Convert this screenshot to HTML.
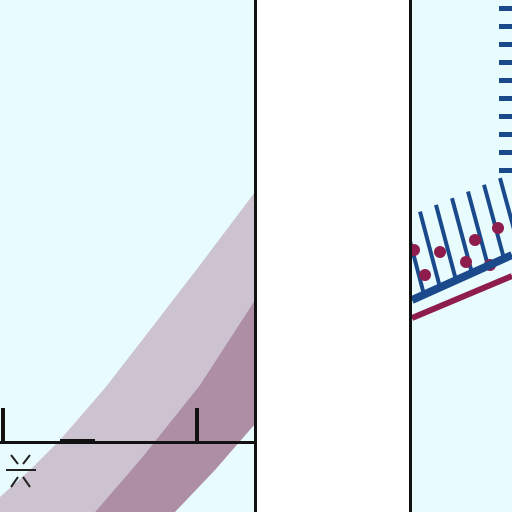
<!DOCTYPE html>
<html><head><meta charset="utf-8"><style>
html,body{margin:0;padding:0;width:512px;height:512px;overflow:hidden;background:#fff}
svg{display:block}
</style></head><body>
<svg id="s" width="512" height="512" viewBox="0 0 512 512">
<defs><clipPath id="lc"><rect x="0" y="0" width="255" height="512"/></clipPath>
<clipPath id="rc"><rect x="412" y="0" width="100" height="512"/></clipPath></defs>
<rect x="0" y="0" width="255" height="512" fill="#e8fbfd"/>
<rect x="258" y="0" width="152" height="512" fill="#ffffff"/>
<rect x="412" y="0" width="100" height="512" fill="#e8fbfd"/>
<g id="band" clip-path="url(#lc)"></g>
<rect x="0" y="441" width="255" height="3" fill="#111"/>
<rect x="60" y="439" width="35" height="3" fill="#111"/>
<rect x="1" y="408" width="4" height="34" fill="#111"/>
<rect x="195" y="408" width="4" height="34" fill="#111"/>
<g stroke="#222" stroke-width="2">
<line x1="6" y1="470" x2="36" y2="470"/>
<line x1="11" y1="455" x2="18" y2="464"/><line x1="30" y1="455" x2="23" y2="464"/>
<line x1="11" y1="487" x2="18" y2="477"/><line x1="30" y1="487" x2="23" y2="477"/>
</g>
<rect x="254" y="0" width="3" height="512" fill="#111"/>
<rect x="409" y="0" width="3" height="512" fill="#111"/>
<g id="right" clip-path="url(#rc)"></g>
</svg>
<script>
const bandOuterLeft=[[0,497],[30,470],[60,440],[105,388],[150,330],[200,265],[255,192]];
const bandMid=[[95,512],[140,460],[200,385],[255,300]];
const bandRight=[[175,512],[215,470],[255,424]];
const dashYs=[6,24,42,60,78,96,114,132,150,168];
const hatchXs=[404,420,436,452,468,484,500,516];
const dotPts=[[414,250],[440,252],[475,240],[498,228],[466,262],[425,275],[490,265]];
const ns="http://www.w3.org/2000/svg";
function mk(t,a,p,name){const e=document.createElementNS(ns,t);for(const k in a)e.setAttribute(k,a[k]);


p.appendChild(e);return e;}
const band=document.getElementById('band');
function pts(a){return a.map(p=>p.join(",")).join(" ");}
mk('polygon',{points:pts(bandOuterLeft)+" "+pts(bandMid.slice().reverse())+" 0,512",fill:"#cdc2cf"},band,'band-light');
mk('polygon',{points:pts(bandMid)+" "+pts(bandRight.slice().reverse()),fill:"#ad8ea5"},band,'band-dark');
const r=document.getElementById('right');
dashYs.forEach(y=>{mk('rect',{x:499,y:y,width:13,height:5,fill:"#1a4a8c"},r,'dash-mark');});
function topY(x){return 215-(x-412)*0.42;}
function baseY(x){return 300-(x-412)*0.45;}
hatchXs.forEach(x=>{mk('line',{x1:x,y1:topY(x),x2:x+20,y2:baseY(x+20),stroke:"#1a4a8c","stroke-width":4},r,'hatch-line');});
dotPts.forEach(p=>{mk('circle',{cx:p[0],cy:p[1],r:6,fill:"#8e1d4e"},r,'dot-point');});
mk('line',{x1:412,y1:300,x2:512,y2:255,stroke:"#1a4a8c","stroke-width":8},r,'blue-line');
mk('line',{x1:412,y1:318,x2:512,y2:276,stroke:"#8e1d4e","stroke-width":6},r,'maroon-line');
</script>
</body></html>
